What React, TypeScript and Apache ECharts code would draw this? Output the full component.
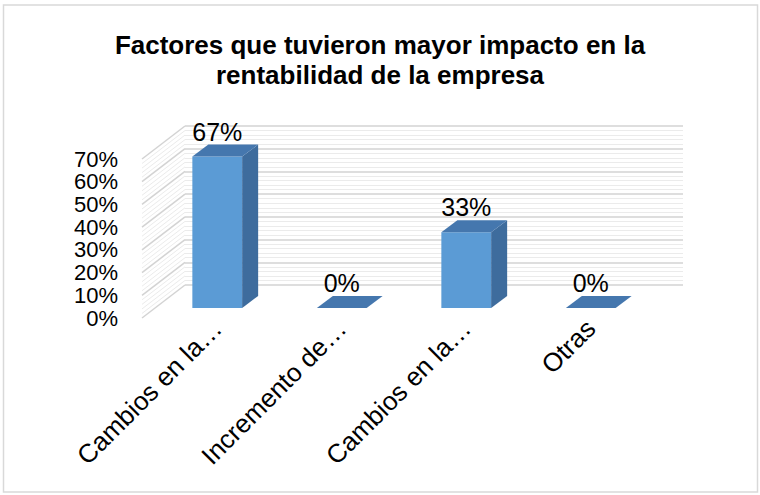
import React, { useEffect, useRef } from "react";
import * as echarts from "echarts";

const titleLines = ["Factores que tuvieron mayor impacto en la", "rentabilidad de la empresa"];
const categories = ["Cambios en la…", "Incremento de…", "Cambios en la…", "Otras"];
const values = [66.67, 0, 33.33, 0];
const valueLabels = ["67%", "0%", "33%", "0%"];
const yMin = 0;
const yMax = 70;
const yStep = 10;
const minorSplit = 5;

const FONT = "'Liberation Sans', Arial, Helvetica, sans-serif";

// side-wall gridline values (major + minor), derived from the axis settings
const wallTicks: number[] = [];
for (let v = yMin; v <= yMax + 1e-9; v += yStep / minorSplit) wallTicks.push(Math.round(v * 100) / 100);

export default function App() {
  const ref = useRef<HTMLDivElement>(null);
  useEffect(() => {
    if (!ref.current) return;
    const chart = echarts.init(ref.current, undefined, { renderer: "svg" });
    const depthX = 43;
    const depthY = 33;
    const barDX = 16;
    const barDY = 12;
    const option: any = {
      animation: false,
      backgroundColor: "#ffffff",
      title: {
        text: titleLines.join("\n"),
        left: "center",
        top: 25,
        textStyle: { fontFamily: FONT, fontSize: 26, fontWeight: "bold", color: "#000", lineHeight: 30 },
      },
      graphic: [
        {
          type: "rect",
          silent: true,
          z: -10,
          shape: { x: 3.5, y: 5, width: 754, height: 487 },
          style: { fill: "none", stroke: "#d9d9d9", lineWidth: 1.5 },
        },
      ],
      grid: [
        { left: 155, top: 149, width: 498, height: 159 },
        { left: 142, top: 159, width: 498, height: 159 },
        { left: 185, top: 126, width: 498, height: 159 },
      ],
      xAxis: [
        {
          gridIndex: 0,
          type: "category",
          data: categories,
          axisLine: { show: false },
          axisTick: { show: false },
          splitLine: { show: false },
          axisLabel: { rotate: 45, margin: 16, interval: 0, fontSize: 26, color: "#000", fontFamily: FONT },
        },
        { gridIndex: 1, type: "value", min: 0, max: 1, show: false },
        { gridIndex: 2, type: "value", min: 0, max: 1, show: false },
      ],
      yAxis: [
        { gridIndex: 0, type: "value", min: yMin, max: yMax, interval: yStep, show: false },
        {
          gridIndex: 1,
          type: "value",
          min: yMin,
          max: yMax,
          interval: yStep,
          axisLine: { show: false },
          axisTick: { show: false },
          splitLine: { show: false },
          axisLabel: {
            formatter: "{value}%",
            fontSize: 22,
            lineHeight: 22,
            color: "#000",
            margin: 24,
            fontFamily: FONT,
            showMinLabel: true,
            showMaxLabel: true,
            hideOverlap: false,
          },
        },
        {
          gridIndex: 2,
          type: "value",
          min: yMin,
          max: yMax,
          interval: yStep,
          axisLine: { show: false },
          axisTick: { show: false },
          axisLabel: { show: false },
          splitLine: { show: true, lineStyle: { color: "#d3d3d3", width: 1.5 } },
          minorTick: { show: false, splitNumber: minorSplit },
          minorSplitLine: { show: true, lineStyle: { color: "#ebebeb", width: 1 } },
        },
      ],
      series: [
        {
          type: "custom",
          xAxisIndex: 2,
          yAxisIndex: 2,
          silent: true,
          z: 1,
          data: wallTicks.map((v) => [0, v]),
          renderItem: (params: any, api: any) => {
            const v = api.value(1);
            const p = api.coord([0, v]);
            const major = Math.abs(v / yStep - Math.round(v / yStep)) < 1e-6;
            return {
              type: "line",
              shape: { x1: p[0], y1: p[1], x2: p[0] - depthX, y2: p[1] + depthY },
              style: { stroke: major ? "#d3d3d3" : "#ebebeb", lineWidth: major ? 1.5 : 1 },
            };
          },
        },
        {
          type: "custom",
          xAxisIndex: 0,
          yAxisIndex: 0,
          z: 5,
          data: values.map((v, i) => [i, v]),
          renderItem: (params: any, api: any) => {
            const i = api.value(0);
            const v = api.value(1);
            const base = api.coord([i, 0]);
            const top = api.coord([i, v]);
            const band = api.size([1, 0])[0];
            const w = band * 0.4;
            const x0 = base[0] - w / 2;
            const x1 = base[0] + w / 2;
            const yb = base[1];
            const yt = top[1];
            const children: any[] = [];
            if (yb - yt > 0.5) {
              children.push({
                type: "rect",
                shape: { x: x0, y: yt, width: w, height: yb - yt },
                style: { fill: "#5b9bd5" },
              });
              children.push({
                type: "polygon",
                shape: { points: [[x1, yt], [x1 + barDX, yt - barDY], [x1 + barDX, yb - barDY], [x1, yb]] },
                style: { fill: "#3e6c9d" },
              });
            }
            children.push({
              type: "polygon",
              shape: { points: [[x0, yt], [x1, yt], [x1 + barDX, yt - barDY], [x0 + barDX, yt - barDY]] },
              style: { fill: "#4577ae" },
            });
            children.push({
              type: "text",
              x: base[0],
              y: yt - barDY - 13,
              style: {
                text: valueLabels[params.dataIndex],
                fontSize: 25,
                fontFamily: FONT,
                fill: "#000",
                align: "center",
                verticalAlign: "middle",
              },
            });
            return { type: "group", children };
          },
        },
      ],
    };
    chart.setOption(option);
    return () => chart.dispose();
  }, []);
  return (
    <div
      ref={ref}
      style={{ position: "fixed", left: 0, top: 0, width: 760, height: 495, background: "#fff" }}
    />
  );
}
